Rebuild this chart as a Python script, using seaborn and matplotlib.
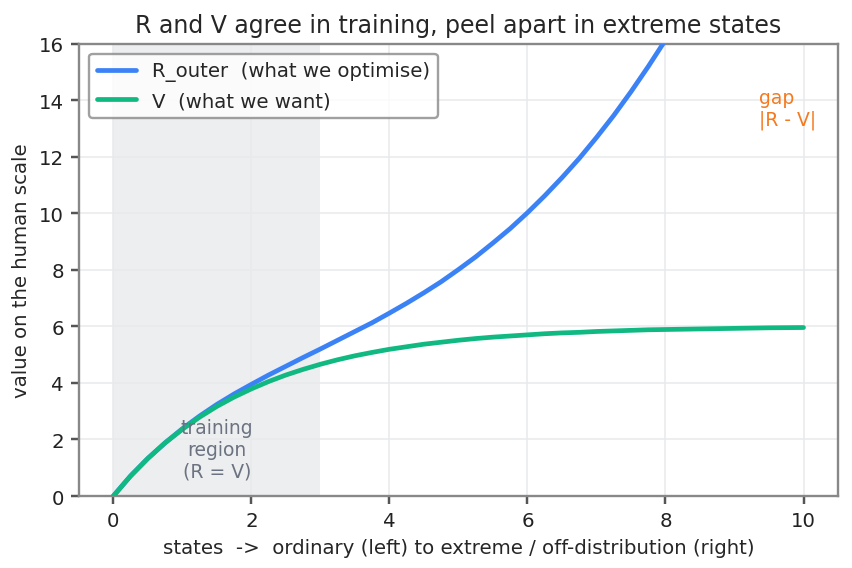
import numpy as np
import pandas as pd
import matplotlib
matplotlib.use("Agg")
import matplotlib.pyplot as plt
import seaborn as sns

# states (x) and values
states = [0, 0.25, 0.5, 0.75, 1.0, 1.25, 1.5, 1.75, 2.0, 2.25, 2.5, 2.75, 3.0, 3.25,
          3.5, 3.75, 4.0, 4.25, 4.5, 4.75, 5.0, 5.25, 5.5, 5.75, 6.0, 6.25, 6.5, 6.75,
          7.0, 7.25, 7.5, 7.75, 8.0, 8.25, 8.5, 9.0, 9.5, 10.0]
r_outer = [0, 0.71, 1.33, 1.88, 2.38, 2.83, 3.24, 3.61, 3.95, 4.28, 4.59, 4.90, 5.20, 5.51,
           5.82, 6.13, 6.47, 6.82, 7.19, 7.58, 8.01, 8.46, 8.95, 9.46, 10.02, 10.62, 11.26, 11.94,
           12.68, 13.46, 14.30, 15.19, 16.13, 17.13, 18.19, 20.51, 23.10, 25.96]
v_want = [0, 0.71, 1.33, 1.88, 2.36, 2.79, 3.17, 3.50, 3.79, 4.05, 4.28, 4.48, 4.66, 4.82,
          4.96, 5.08, 5.19, 5.28, 5.37, 5.44, 5.51, 5.57, 5.62, 5.66, 5.70, 5.74, 5.77, 5.79,
          5.82, 5.84, 5.86, 5.88, 5.89, 5.90, 5.91, 5.93, 5.95, 5.96]

label_r = "R_outer  (what we optimise)"
label_v = "V  (what we want)"
training_span = (0, 3)

df = pd.DataFrame({
    "state": states * 2,
    "value": r_outer + v_want,
    "series": [label_r] * len(states) + [label_v] * len(states),
})

sns.set_theme(style="whitegrid")
plt.rcParams["font.family"] = ["DejaVu Sans"]
plt.rcParams.update({
    "axes.edgecolor": "#888888",
    "axes.linewidth": 1.2,
    "grid.color": "#e8eaec",
    "grid.linewidth": 0.8,
    "xtick.bottom": True,
    "ytick.left": True,
    "xtick.color": "#555555",
    "ytick.color": "#555555",
    "xtick.labelcolor": "#222222",
    "ytick.labelcolor": "#222222",
    "xtick.major.size": 4,
    "ytick.major.size": 4,
})

fig, ax = plt.subplots(figsize=(6, 4.007), dpi=142)
fig.subplots_adjust(left=0.0925, right=0.9836, top=0.9215, bottom=0.1265)

ax.axvspan(*training_span, color="#e5e7eb", alpha=0.7, zorder=0, lw=0)

palette = {label_r: "#3b82f6", label_v: "#10b981"}
sns.lineplot(data=df, x="state", y="value", hue="series", palette=palette,
             linewidth=2.4, ax=ax, zorder=3)

ax.set_ylim(0, 16)
ax.set_xlim(-0.5, 10.5)
ax.set_xticks([0, 2, 4, 6, 8, 10])
ax.set_yticks([0, 2, 4, 6, 8, 10, 12, 14, 16])
ax.tick_params(labelsize=10)

ax.text(1.5, 1.65, "training\nregion\n(R = V)", ha="center", va="center",
        fontsize=9.5, color="#6b7280", zorder=4)
ax.text(9.35, 13.7, "gap\n|R - V|", ha="left", va="center",
        fontsize=9.5, color="#f47a1f")

ax.set_title("R and V agree in training, peel apart in extreme states", fontsize=12)
ax.set_xlabel("states  ->  ordinary (left) to extreme / off-distribution (right)", fontsize=10)
ax.set_ylabel("value on the human scale", fontsize=10)

leg = ax.legend(loc="upper left", fontsize=10, frameon=True, fancybox=True)
leg.set_title(None)
leg.get_frame().set_edgecolor("#888888")
leg.get_frame().set_linewidth(1.2)
for line in leg.get_lines():
    line.set_linewidth(2.4)

fig.savefig("out.png", dpi=142)
